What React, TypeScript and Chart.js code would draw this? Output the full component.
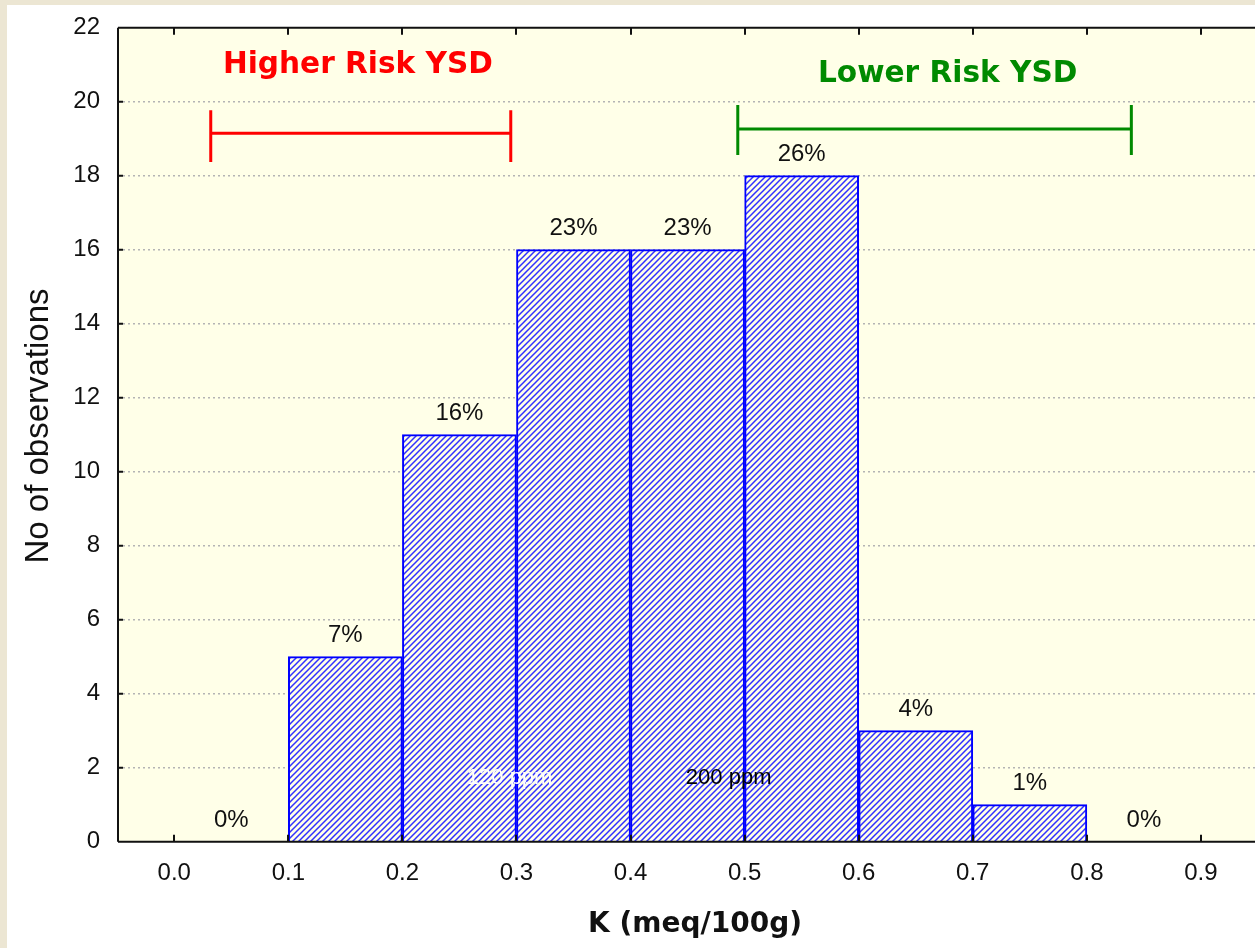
import React, { useEffect, useRef } from 'react';
import { Chart, registerables } from 'chart.js';

Chart.register(...registerables);

// ---- data ----
const binCenters = [0.05, 0.15, 0.25, 0.35, 0.45, 0.55, 0.65, 0.75, 0.85];
const counts = [0, 5, 11, 16, 16, 18, 3, 1, 0];
const percentLabels = ['0%', '7%', '16%', '23%', '23%', '26%', '4%', '1%', '0%'];
const xTickValues = [0, 0.1, 0.2, 0.3, 0.4, 0.5, 0.6, 0.7, 0.8, 0.9];
const xTickLabels = ['0.0', '0.1', '0.2', '0.3', '0.4', '0.5', '0.6', '0.7', '0.8', '0.9'];

// risk brackets (data units)
const bracketLabels = ['Higher Risk YSD', 'Lower Risk YSD'];
const bracketStart = [0.032, 0.494];
const bracketEnd = [0.295, 0.839];
const bracketLevel = [19.15, 19.26];
const bracketCapLow = [18.37, 18.56];
const bracketCapHigh = [19.77, 19.91];
const bracketLabelX = [0.161, 0.678];
const bracketLabelY = [20.99, 20.75];

// notes (data units)
const noteTexts = ['120 ppm', '200 ppm'];
const noteX = [0.294, 0.486];
const noteY = [1.72, 1.72];

const xTitle = 'K (meq/100g)';
const yTitle = 'No of observations';

// ---- styles ----
const bracketColors = ['#ff0000', '#008a00'];
const noteColors = ['#ffffff', '#000000'];
const PLOT_BG = '#ffffe8';
const SANS = '"Liberation Sans", Arial, sans-serif';
const BOLD = '"DejaVu Sans", Verdana, sans-serif';

function makeHatch(): CanvasPattern | string {
  const p = 6;
  const c = document.createElement('canvas');
  c.width = p;
  c.height = p;
  const g = c.getContext('2d');
  if (!g) return '#8080ff';
  g.fillStyle = PLOT_BG;
  g.fillRect(0, 0, p, p);
  g.strokeStyle = '#3030ff';
  g.lineWidth = 1.5;
  g.beginPath();
  g.moveTo(0, p);
  g.lineTo(p, 0);
  g.moveTo(-1, 1);
  g.lineTo(1, -1);
  g.moveTo(p - 1, p + 1);
  g.lineTo(p + 1, p - 1);
  g.stroke();
  const pat = g.createPattern(c, 'repeat');
  return pat || '#8080ff';
}

const decorPlugin = {
  id: 'decor',
  beforeDraw(chart: any) {
    const { ctx, chartArea } = chart;
    ctx.save();
    ctx.fillStyle = PLOT_BG;
    ctx.fillRect(chartArea.left, chartArea.top, chartArea.right - chartArea.left, chartArea.bottom - chartArea.top);
    ctx.restore();
  },
  afterDatasetsDraw(chart: any) {
    const { ctx, scales } = chart;
    const xs = scales.x;
    const ys = scales.y;
    ctx.save();
    // percent labels
    ctx.font = `24px ${SANS}`;
    ctx.fillStyle = '#111';
    ctx.textAlign = 'center';
    ctx.textBaseline = 'middle';
    binCenters.forEach((b, i) => {
      ctx.fillText(percentLabels[i], xs.getPixelForValue(b), ys.getPixelForValue(counts[i]) - 21);
    });
    // notes
    ctx.font = `22px ${SANS}`;
    noteTexts.forEach((t, i) => {
      ctx.fillStyle = noteColors[i];
      ctx.fillText(t, xs.getPixelForValue(noteX[i]), ys.getPixelForValue(noteY[i]));
    });
    // brackets
    bracketLabels.forEach((label, i) => {
      ctx.strokeStyle = bracketColors[i];
      ctx.lineWidth = 3;
      const x0 = xs.getPixelForValue(bracketStart[i]);
      const x1 = xs.getPixelForValue(bracketEnd[i]);
      const yl = ys.getPixelForValue(bracketLevel[i]);
      const yc0 = ys.getPixelForValue(bracketCapLow[i]);
      const yc1 = ys.getPixelForValue(bracketCapHigh[i]);
      ctx.beginPath();
      ctx.moveTo(x0, yl);
      ctx.lineTo(x1, yl);
      ctx.moveTo(x0, yc0);
      ctx.lineTo(x0, yc1);
      ctx.moveTo(x1, yc0);
      ctx.lineTo(x1, yc1);
      ctx.stroke();
      ctx.fillStyle = bracketColors[i];
      ctx.font = `bold 29.6px ${BOLD}`;
      ctx.fillText(label, xs.getPixelForValue(bracketLabelX[i]), ys.getPixelForValue(bracketLabelY[i]));
    });
    ctx.restore();
  },
  afterDraw(chart: any) {
    const { ctx, chartArea, scales } = chart;
    const xs = scales.x;
    const ys = scales.y;
    const { left, right, top, bottom } = chartArea;
    ctx.save();
    ctx.strokeStyle = '#111';
    ctx.lineWidth = 2;
    ctx.beginPath();
    ctx.moveTo(left, top);
    ctx.lineTo(right, top);
    ctx.moveTo(left, top);
    ctx.lineTo(left, bottom);
    ctx.moveTo(left, bottom);
    ctx.lineTo(right, bottom);
    // tick marks inside
    xTickValues.forEach((v) => {
      const px = Math.round(xs.getPixelForValue(v));
      ctx.moveTo(px, bottom);
      ctx.lineTo(px, bottom - 7);
      ctx.moveTo(px, top);
      ctx.lineTo(px, top + 7);
    });
    ys.ticks.forEach((t: any) => {
      const py = ys.getPixelForValue(t.value);
      ctx.moveTo(left, py);
      ctx.lineTo(left + 5, py);
    });
    ctx.stroke();
    // axis titles
    ctx.fillStyle = '#111';
    ctx.textAlign = 'center';
    ctx.textBaseline = 'middle';
    ctx.font = `bold 28px ${BOLD}`;
    ctx.fillText(xTitle, 695, 925);
    ctx.translate(39, 426);
    ctx.rotate(-Math.PI / 2);
    ctx.font = `33px ${SANS}`;
    ctx.fillText(yTitle, 0, 0);
    ctx.restore();
  },
};

export default function App() {
  const ref = useRef<HTMLCanvasElement | null>(null);
  useEffect(() => {
    if (!ref.current) return;
    const hatch = makeHatch();
    const chart = new Chart(ref.current, {
      type: 'bar',
      data: {
        datasets: [
          {
            data: binCenters.map((x, i) => ({ x, y: counts[i] })),
            backgroundColor: hatch as any,
            borderColor: '#0000ff',
            borderWidth: 2,
            barPercentage: 1,
            categoryPercentage: 1,
          },
        ],
      },
      options: {
        animation: false,
        responsive: false,
        devicePixelRatio: 1,
        layout: { padding: { top: 27.7, left: 0, right: 0, bottom: 0 } },
        plugins: { legend: { display: false }, tooltip: { enabled: false } },
        scales: {
          x: {
            type: 'linear',
            offset: false,
            min: -0.0493,
            max: 0.9474,
            afterBuildTicks: (scale: any) => {
              scale.ticks = xTickValues.map((v) => ({ value: v }));
            },
            afterFit: (scale: any) => {
              scale.height = 106.3;
              scale.paddingLeft = 0;
              scale.paddingRight = 0;
            },
            ticks: {
              autoSkip: false,
              maxRotation: 0,
              padding: 17,
              color: '#111',
              font: { family: SANS, size: 24 },
              callback: (v: any) => {
                const i = xTickValues.findIndex((t) => Math.abs(t - Number(v)) < 1e-6);
                return i >= 0 ? xTickLabels[i] : '';
              },
            },
            grid: { display: false, drawTicks: false, offset: false },
            border: { display: false },
          },
          y: {
            min: 0,
            max: 22,
            afterFit: (scale: any) => {
              scale.width = 118;
              scale.paddingTop = 0;
              scale.paddingBottom = 0;
            },
            ticks: {
              stepSize: 2,
              padding: 18,
              color: '#111',
              font: { family: SANS, size: 24 },
            },
            grid: {
              drawTicks: false,
              color: (ctx: any) => (ctx.tick && (ctx.tick.value === 0 || ctx.tick.value === 22) ? 'rgba(0,0,0,0)' : '#b4b4b4'),
              lineWidth: 1.5,
            },
            border: { display: false, dash: [2, 3] },
          },
        },
      },
      plugins: [decorPlugin],
    });
    return () => chart.destroy();
  }, []);

  return (
    <div style={{ position: 'fixed', left: 0, top: 0, width: 1255, height: 948, background: '#ece6d3', overflow: 'hidden' }}>
      <div style={{ position: 'absolute', left: 7, top: 5, right: 0, bottom: 0, background: '#ffffff' }} />
      <canvas ref={ref} width={1255} height={948} style={{ position: 'absolute', left: 0, top: 0, width: 1255, height: 948 }} />
    </div>
  );
}
